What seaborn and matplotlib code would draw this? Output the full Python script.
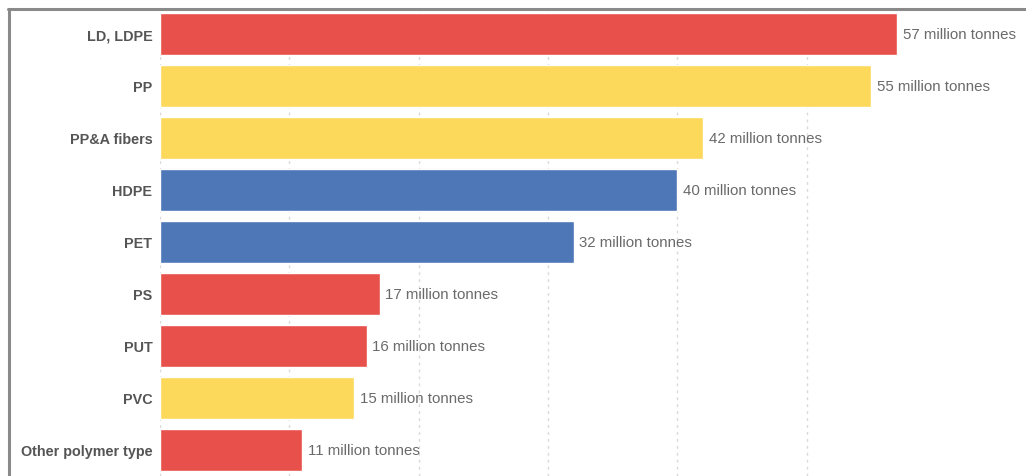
import matplotlib
matplotlib.use("Agg")
import matplotlib.pyplot as plt
import seaborn as sns
import pandas as pd
from matplotlib.lines import Line2D

categories = ["LD, LDPE", "PP", "PP&A fibers", "HDPE", "PET", "PS", "PUT", "PVC", "Other polymer type"]
values = [57, 55, 42, 40, 32, 17, 16, 15, 11]
bar_colors = ["#E8504B", "#FDD95B", "#FDD95B", "#4E77B7", "#4E77B7", "#E8504B", "#E8504B", "#FDD95B", "#E8504B"]
unit = "million tonnes"
xticks = [0, 10, 20, 30, 40, 50]

sns.set_style("white")
plt.rcParams['font.family'] = ['Liberation Sans', 'DejaVu Sans']

df = pd.DataFrame({"category": categories, "value": values})

fig = plt.figure(figsize=(10.26, 4.77), dpi=100)
ax = fig.add_axes([160/1026, 0.0, (936-160)/1026, (477-9)/477])

sns.barplot(data=df, y="category", x="value", hue="category",
            palette=dict(zip(categories, bar_colors)), legend=False,
            width=0.79, saturation=1, ax=ax, zorder=2)

ax.set_xlim(0, 60)
ax.set_ylim(len(categories) - 0.5, -0.5)
ax.set_xticks(xticks)
ax.xaxis.grid(True, color="#d9d9d9", linestyle=(0, (2, 3)), linewidth=1, zorder=0)
ax.set_axisbelow(True)
ax.tick_params(axis="x", bottom=False, labelbottom=False)
ax.tick_params(axis="y", left=False, pad=2, labelsize=10.4, labelcolor="#555555")
for lbl in ax.get_yticklabels():
    lbl.set_fontweight("bold")
ax.set_xlabel("")
ax.set_ylabel("")
for s in ax.spines.values():
    s.set_visible(False)

for cont in ax.containers:
    ax.bar_label(cont, labels=[f"{v:g} {unit}" for v in cont.datavalues],
                 padding=4, fontsize=10.8, color="#6a6a6a", clip_on=False)

# outer frame (top and left edges visible)
fig.add_artist(Line2D([9/1026, 9/1026], [0, 1 - 10/477], transform=fig.transFigure,
                      color="#8a8a8a", linewidth=2.2))
fig.add_artist(Line2D([8/1026, 1.0], [1 - 10/477, 1 - 10/477], transform=fig.transFigure,
                      color="#8a8a8a", linewidth=2.2))

fig.savefig("out.png", dpi=100, facecolor="white")
